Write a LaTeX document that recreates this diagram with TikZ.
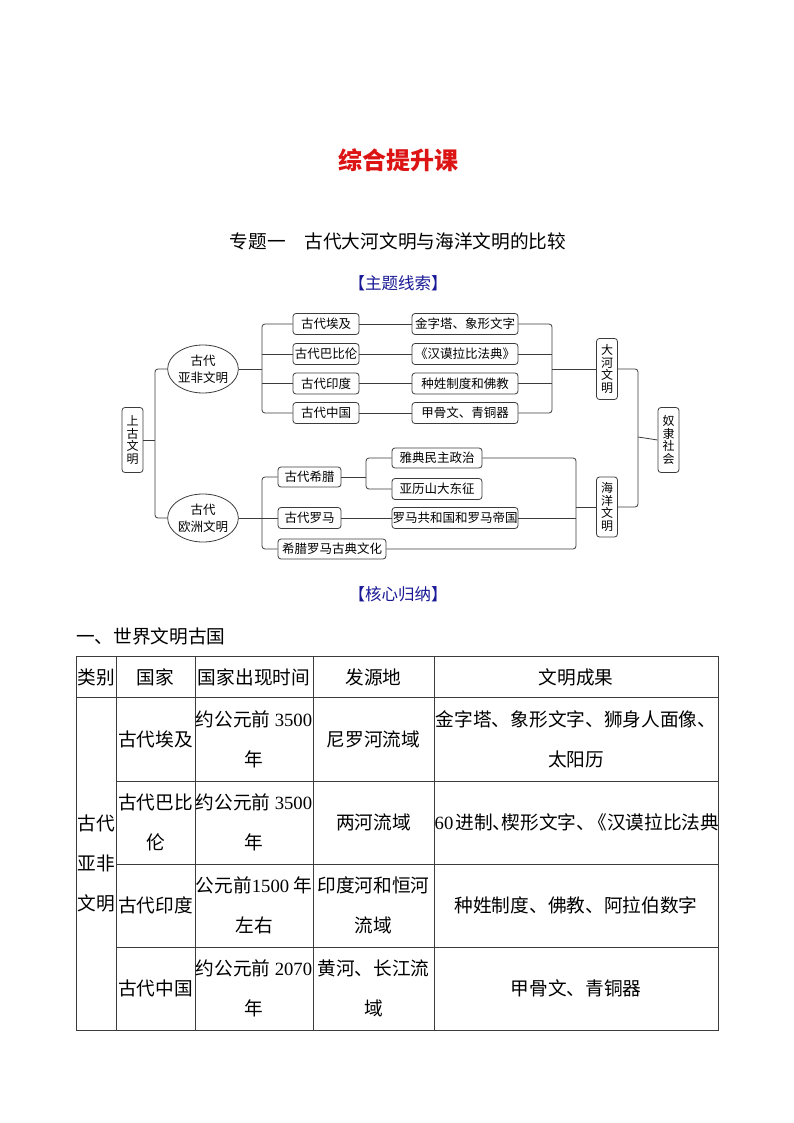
\documentclass[tikz,border=0pt]{standalone}
\usepackage{fontspec}
\setmainfont{Noto Sans CJK SC}
\newfontfamily\tnr{Liberation Serif}
\usetikzlibrary{shapes.geometric}
\definecolor{ttlred}{RGB}{220,20,20}
\definecolor{hdblue}{RGB}{25,25,150}
\definecolor{ln}{RGB}{60,60,60}
\begin{document}
\begin{tikzpicture}[x=1pt,y=-1pt,
 dbox/.style={draw=ln, line width=0.8pt, rounded corners=3pt, inner sep=0pt, font=\fontsize{12.5}{14}\selectfont, minimum height=21pt},
 vbox/.style={draw=ln, line width=0.8pt, rounded corners=3pt, inner sep=0pt, font=\fontsize{12}{12.5}\selectfont, minimum width=21pt, align=center},
 ell/.style={draw=ln, line width=0.8pt, ellipse, inner sep=0pt, minimum width=60pt, minimum height=48pt, align=center, font=\fontsize{12.5}{17}\selectfont},
 conn/.style={draw=ln, line width=0.8pt},
 brk/.style={conn, rounded corners=3pt},
 tb/.style={font=\fontsize{18.67}{40}\selectfont, align=center, inner sep=0pt},
 tl/.style={line width=0.8pt, draw=ln}
]
\useasboundingbox[fill=white] (0,0) rectangle (794,1123);

% titles
\node[font=\fontsize{24}{26}\selectfont\bfseries, text=ttlred] (title) at (398,160) {综合提升课};
\node[font=\fontsize{18.67}{20}\selectfont] (sub) at (398,241) {专题一　古代大河文明与海洋文明的比较};
\node[font=\fontsize{16.5}{18}\selectfont, text=hdblue] (h1) at (398,283) {【主题线索】};
\node[font=\fontsize{16.5}{18}\selectfont, text=hdblue] (h2) at (398,594) {【核心归纳】};
\node[font=\fontsize{18.67}{20}\selectfont, anchor=west, inner sep=0pt] (h3) at (76,636) {一、世界文明古国};

% diagram nodes
\node[vbox, minimum height=65pt] (sg) at (132.5,440) {上\\古\\文\\明};
\node[ell] (e1) at (203,369) {古代\\亚非文明};
\node[ell] (e2) at (203,518) {古代\\欧洲文明};

\node[dbox, minimum width=66pt] (a1) at (326,324) {古代埃及};
\node[dbox, minimum width=66pt] (a2) at (326,354) {古代巴比伦};
\node[dbox, minimum width=66pt] (a3) at (326,383.5) {古代印度};
\node[dbox, minimum width=66pt] (a4) at (326,413) {古代中国};

\node[dbox, minimum width=106pt] (c1) at (465,324) {金字塔、象形文字};
\node[dbox, minimum width=106pt] (c2) at (465,354) {《汉谟拉比法典》};
\node[dbox, minimum width=106pt] (c3) at (465,383.5) {种姓制度和佛教};
\node[dbox, minimum width=106pt] (c4) at (465,413) {甲骨文、青铜器};

\node[vbox, minimum height=61pt] (dh) at (607,369) {大\\河\\文\\明};
\node[vbox, minimum height=60pt] (hy) at (607,507) {海\\洋\\文\\明};
\node[vbox, minimum height=65pt] (nl) at (668.5,440) {奴\\隶\\社\\会};

\node[dbox, minimum width=63pt, minimum height=20pt] (g1) at (309.5,477) {古代希腊};
\node[dbox, minimum width=63pt] (g2) at (309.5,518) {古代罗马};
\node[dbox, minimum width=108pt, minimum height=20pt] (g3) at (332,549) {希腊罗马古典文化};

\node[dbox, minimum width=90pt, minimum height=20pt] (y1) at (437,458) {雅典民主政治};
\node[dbox, minimum width=90pt] (y2) at (437,489) {亚历山大东征};
\node[dbox, minimum width=126pt] (r2) at (455,518) {罗马共和国和罗马帝国};

% bracket coordinates
\coordinate (b1) at (155,440);
\coordinate (b2) at (262,369);
\coordinate (b3) at (552,369);
\coordinate (b4) at (638,437);
\coordinate (b5) at (262,518);
\coordinate (b6) at (366,477);
\coordinate (b7) at (576,507);

% connectors
\draw[conn] (sg.east) -- (b1);
\draw[brk] (e1.west) -- (e1.west -| b1) -- (e2.west -| b1) -- (e2.west);

\draw[conn] (e1.east) -- (b2);
\draw[brk] (a1.west) -- (a1.west -| b2) -- (a4.west -| b2) -- (a4.west);
\draw[conn] (a2.west) -- (a2.west -| b2);
\draw[conn] (a3.west) -- (a3.west -| b2);

\draw[conn] (a1.east) -- (c1.west);
\draw[conn] (a2.east) -- (c2.west);
\draw[conn] (a3.east) -- (c3.west);
\draw[conn] (a4.east) -- (c4.west);

\draw[brk] (c1.east) -- (c1.east -| b3) -- (c4.east -| b3) -- (c4.east);
\draw[conn] (c2.east) -- (c2.east -| b3);
\draw[conn] (c3.east) -- (c3.east -| b3);
\draw[conn] (b3) -- (dh.west);

\draw[brk] (dh.east) -- (dh.east -| b4) -- (hy.east -| b4) -- (hy.east);
\draw[conn] (b4) -- (nl.west);

\draw[conn] (e2.east) -- (g2.west);
\draw[brk] (g1.west) -- (g1.west -| b5) -- (g3.west -| b5) -- (g3.west);

\draw[conn] (g1.east) -- (b6);
\draw[brk] (y1.west) -- (y1.west -| b6) -- (y2.west -| b6) -- (y2.west);
\draw[conn] (g2.east) -- (r2.west);

\draw[brk] (y1.east) -- (y1.east -| b7) -- (g3.east -| b7) -- (g3.east);
\draw[conn] (r2.east) -- (r2.east -| b7);
\draw[conn] (b7) -- (hy.west);

% table
\draw[tl] (76,656) rectangle (718,1030);
\draw[tl] (76,697) -- (718,697);
\foreach \yy in {781,864,947} \draw[tl] (116,\yy) -- (718,\yy);
\foreach \xx in {116,195,313,434} \draw[tl] (\xx,656) -- (\xx,1030);

\node[tb] (t00) at (96,677) {类别};
\node[tb] (t01) at (155.5,677) {国家};
\node[tb] (t02) at (254,677) {国家出现时间};
\node[tb] (t03) at (373.5,677) {发源地};
\node[tb] (t04) at (576,677) {文明成果};

\node[tb] (t10) at (96,863.5) {古代\\亚非\\文明};

\node[tb] (t11) at (155.5,739) {古代埃及};
\node[tb] (t12) at (254,739) {约公元前 {\tnr 3500}\\年};
\node[tb] (t13) at (373.5,739) {尼罗河流域};
\node[tb] (t14) at (576,739) {金字塔、象形文字、狮身人面像、\\太阳历};

\node[tb] (t21) at (155.5,822.5) {古代巴比\\伦};
\node[tb] (t22) at (254,822.5) {约公元前 {\tnr 3500}\\年};
\node[tb] (t23) at (373.5,822.5) {两河流域};
\begin{scope}
\clip (434,781) rectangle (718,864);
\node[tb, anchor=west] (t24) at (434.5,822.5) {{\tnr 60}\hspace{2pt}进制\makebox[9pt][l]{、}楔形文字、\makebox[12pt][r]{《}汉谟拉比法典》};
\end{scope}

\node[tb] (t31) at (155.5,905.5) {古代印度};
\node[tb] (t32) at (254,905.5) {公元前{\tnr 1500} 年\\左右};
\node[tb] (t33) at (373.5,905.5) {印度河和恒河\\流域};
\node[tb] (t34) at (576,905.5) {种姓制度、佛教、阿拉伯数字};

\node[tb] (t41) at (155.5,988.5) {古代中国};
\node[tb] (t42) at (254,988.5) {约公元前 {\tnr 2070}\\年};
\node[tb] (t43) at (373.5,988.5) {黄河、长江流\\域};
\node[tb] (t44) at (576,988.5) {甲骨文、青铜器};
\end{tikzpicture}
\end{document}
